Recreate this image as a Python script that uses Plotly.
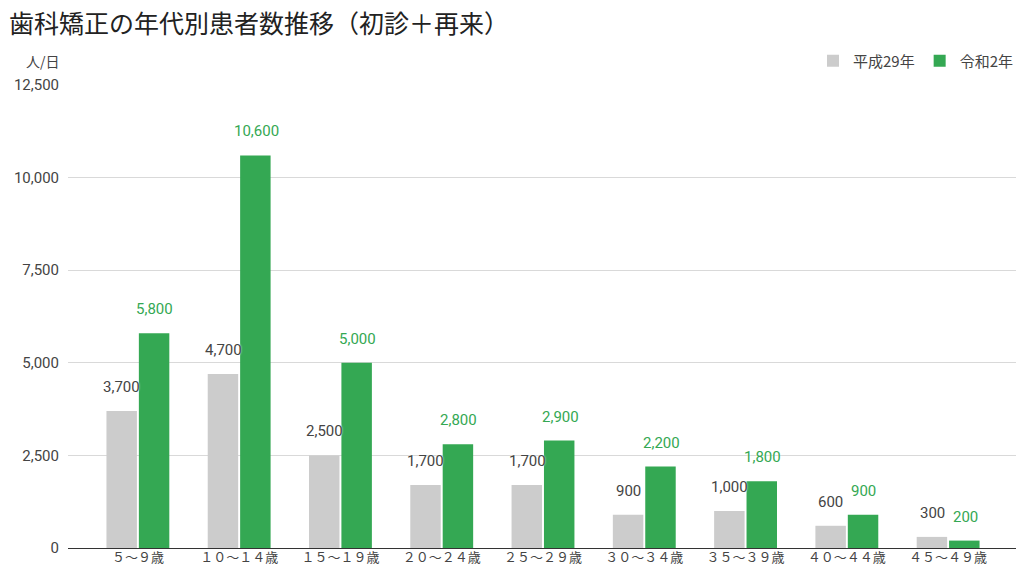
import plotly.graph_objects as go

categories = ["５～９歳", "１０～１４歳", "１５～１９歳", "２０～２４歳", "２５～２９歳",
              "３０～３４歳", "３５～３９歳", "４０～４４歳", "４５～４９歳"]
h29 = [3700, 4700, 2500, 1700, 1700, 900, 1000, 600, 300]
r2 = [5800, 10600, 5000, 2800, 2900, 2200, 1800, 900, 200]
tick_vals = [0, 2500, 5000, 7500, 10000, 12500]
tick_text = ["0", "2,500", "5,000", "7,500", "10,000", "12,500"]

GRAY = "#cccccc"
GREEN = "#34a853"
FONT = "Roboto, Noto Sans CJK JP, sans-serif"
JFONT = "Noto Sans CJK JP, sans-serif"

fig = go.Figure()
fig.add_trace(go.Bar(name="平成29年", x=categories, y=h29, marker_color=GRAY,
                     marker_line_width=0))
fig.add_trace(go.Bar(name="令和2年", x=categories, y=r2, marker_color=GREEN,
                     marker_line_width=0))

annotations = []
for cat, v in zip(categories, h29):
    annotations.append(dict(x=cat, y=v, xref="x", yref="y", text=f"{v:,}",
                            showarrow=False, xshift=-16, yshift=24,
                            font=dict(size=15, color="#444444", family=FONT,
                                      shadow="0px 0px 2px white")))
for cat, v in zip(categories, r2):
    annotations.append(dict(x=cat, y=v, xref="x", yref="y", text=f"{v:,}",
                            showarrow=False, xshift=17, yshift=24,
                            font=dict(size=15, color=GREEN, family=FONT,
                                      shadow="0px 0px 2px white")))
annotations.append(dict(x=-0.046, y=1.052, xref="paper", yref="paper", text="人/日",
                        showarrow=False, xanchor="left", yanchor="middle",
                        font=dict(size=14, color="#444444", family=JFONT)))

fig.update_layout(
    width=1016, height=569,
    margin=dict(l=60, r=6, t=77, b=29),
    paper_bgcolor="white", plot_bgcolor="white",
    font=dict(family=FONT, color="#444444"),
    title=dict(text="歯科矯正の年代別患者数推移（初診＋再来）", x=0.001, xanchor="left",
               y=0.971, yanchor="middle",
               font=dict(size=25, color="#222222", family=JFONT)),
    barmode="group", bargap=0.36, bargroupgap=0.06,
    legend=dict(orientation="h", x=1.0, xanchor="right", y=1.052, yanchor="middle",
                font=dict(size=15, color="#444444", family=JFONT),
                itemwidth=30, traceorder="normal"),
    xaxis=dict(range=[-0.69, 8.69], showgrid=False, ticks="", showline=False,
               tickfont=dict(size=13, color="#444444", family=JFONT)),
    yaxis=dict(range=[0, 12500], tickvals=tick_vals, ticktext=tick_text,
               showgrid=True, gridcolor="#d9d9d9", gridwidth=1,
               zeroline=True, zerolinecolor="#333333", zerolinewidth=1,
               ticks="", ticklabelstandoff=8,
               tickfont=dict(size=15, color="#444444", family=FONT)),
    annotations=annotations,
)

fig.write_html("out.html")
